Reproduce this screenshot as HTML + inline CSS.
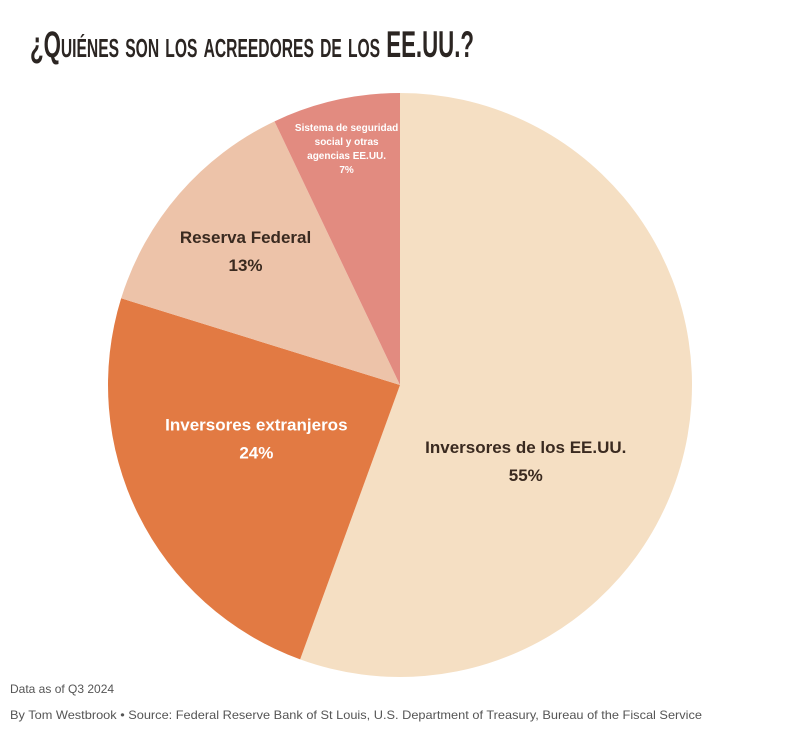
<!DOCTYPE html>
<html><head><meta charset="utf-8"><style>
html,body{margin:0;padding:0;background:#fff;}
svg{display:block;font-family:"Liberation Sans",sans-serif;}
</style></head><body>
<svg id="chart" width="800" height="751" viewBox="0 0 800 751">
<text x="30" y="57" font-size="37" font-weight="bold" fill="#2b2522" textLength="444" lengthAdjust="spacingAndGlyphs" style="font-variant:small-caps">¿Quiénes son los acreedores de los EE.UU.?</text>
<g id="slices"></g>
<g id="labels"></g>
<text x="10" y="693" font-size="12" fill="#555">Data as of Q3 2024</text>
<text x="10" y="719" font-size="12" fill="#555" textLength="692" lengthAdjust="spacingAndGlyphs">By Tom Westbrook • Source: Federal Reserve Bank of St Louis, U.S. Department of Treasury, Bureau of the Fiscal Service</text>
</svg>
<script>
const categories = ["Inversores de los EE.UU.", "Inversores extranjeros", "Reserva Federal", "Sistema de seguridad social y otras agencias EE.UU."];
const values = [55, 24, 13, 7];
const valueLabels = ["55%", "24%", "13%", "7%"];
const colors = ["#f5dfc3", "#e27a43", "#edc3a9", "#e28b80"];
const textColors = ["#3a2a20", "#ffffff", "#3a2a20", "#ffffff"];
const NS = "http://www.w3.org/2000/svg";
const cx = 400, cy = 385, r = 292;
const labelRadius = [0.42, 0.53, 0.7, 0.83];
const labelShift = [[5, 55], [-5, -15], [0, 0], [0, 0]];
const total = values.reduce((a, b) => a + b, 0);
function pt(ang, rad) { return [cx + rad * Math.sin(ang), cy - rad * Math.cos(ang)]; }
const gS = document.getElementById("slices"), gL = document.getElementById("labels");
let a0 = 0;
values.forEach((v, i) => {
  const a1 = a0 + v / total * 2 * Math.PI;
  const p0 = pt(a0, r), p1 = pt(a1, r);
  const large = (a1 - a0) > Math.PI ? 1 : 0;
  const path = document.createElementNS(NS, "path");
  path.setAttribute("d", `M${cx},${cy} L${p0[0]},${p0[1]} A${r},${r} 0 ${large} 1 ${p1[0]},${p1[1]} Z`);
  path.setAttribute("fill", colors[i]);
  
  
  gS.appendChild(path);
  const mid = (a0 + a1) / 2;
  const small = i === 3;
  const lp = pt(mid, r * labelRadius[i]);
  lp[0] += labelShift[i][0]; lp[1] += labelShift[i][1];
  const lines = small ? ["Sistema de seguridad", "social y otras", "agencias EE.UU.", valueLabels[i]] : [categories[i], valueLabels[i]];
  const fs = small ? 10 : 17, lh = small ? 14 : 28;
  const t = document.createElementNS(NS, "text");
  
  
  t.setAttribute("text-anchor", "middle");
  t.setAttribute("font-size", fs);
  t.setAttribute("font-weight", "bold");
  t.setAttribute("fill", textColors[i]);
  const y0 = lp[1] - (lines.length - 1) * lh / 2 + fs * 0.35;
  lines.forEach((ln, k) => {
    const ts = document.createElementNS(NS, "tspan");
    ts.setAttribute("x", lp[0]);
    ts.setAttribute("y", y0 + k * lh);
    ts.textContent = ln;
    t.appendChild(ts);
  });
  gL.appendChild(t);
  a0 = a1;
});
</script>
</body></html>
